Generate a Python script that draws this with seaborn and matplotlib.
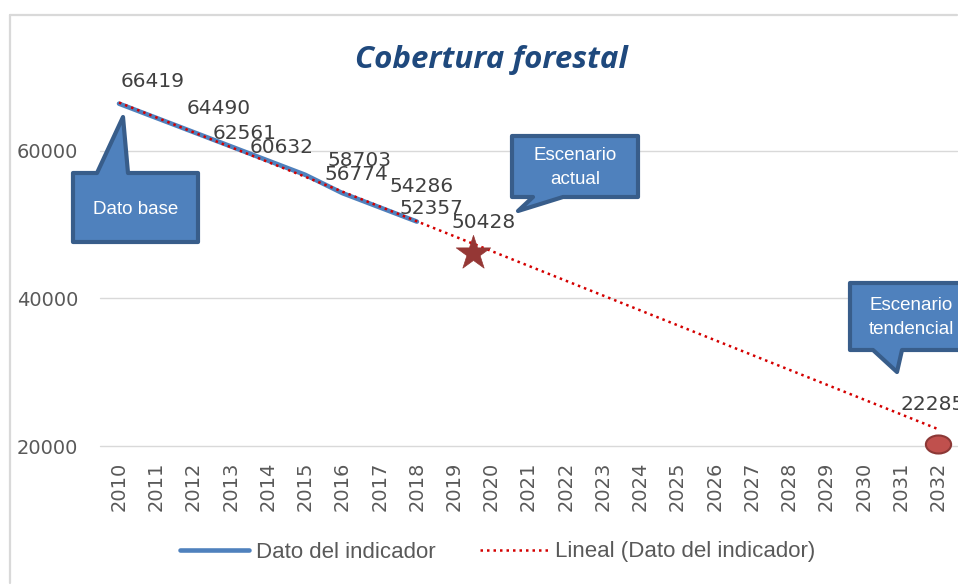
import numpy as np
import matplotlib
matplotlib.use("Agg")
import matplotlib.pyplot as plt
import seaborn as sns
import pandas as pd
from matplotlib.patches import Polygon
from matplotlib.lines import Line2D
from matplotlib.path import Path

# Data
years = [2010, 2011, 2012, 2013, 2014, 2015, 2016, 2017, 2018]
cobertura = [66419, 64490, 62561, 60632, 58703, 56774, 54286, 52357, 50428]
trend_years = [2010, 2032]
trend_values = [66568, 22285]
actual_year = [2019.5]
actual_value = [46170]
tendencial_year = [2032]
tendencial_value = [20270]
all_years = list(range(2010, 2033))
y_ticks = [20000, 40000, 60000]

# label offsets (points) for the data labels, as placed in the original
label_offsets = [(24, 16), (45, 7), (37, -1), (37, -1), (66, 0), (37, 0), (57, 5), (37, -1), (48, -1)]

sns.set_style("white")
plt.rcParams['font.family'] = ['DejaVu Sans']

W, H = 958, 585
fig = plt.figure(figsize=(W / 100, H / 100), dpi=100)
ax = fig.add_axes([100.4 / W, 1 - 446 / H, 856.4 / W, 0.706])

df = pd.DataFrame({'anio': years, 'valor': cobertura})
df_trend = pd.DataFrame({'anio': trend_years, 'valor': trend_values})

sns.lineplot(data=df, x='anio', y='valor', ax=ax, color='#4f81bd', linewidth=3.3,
             label='Dato del indicador')
sns.lineplot(data=df_trend, x='anio', y='valor', ax=ax, color='#d40000', linewidth=1.8,
             linestyle=(0, (1, 1.6)), label='Lineal (Dato del indicador)')

sns.scatterplot(x=actual_year, y=actual_value, ax=ax, marker='*', s=680,
                color='#953735', edgecolor='#953735', linewidth=0.5, zorder=5)
circ = Path.unit_circle()
ell = Path(circ.vertices * np.array([1.4, 1.0]), circ.codes)
sns.scatterplot(x=tendencial_year, y=tendencial_value, ax=ax, marker=ell, s=330,
                color='#c0504d', edgecolor='#8c3836', linewidth=1.5, zorder=5, clip_on=False)

# data labels
for yr, v, (dx, dy) in zip(years, cobertura, label_offsets):
    ax.annotate(f"{v}", (yr, v), xytext=(dx, dy), textcoords='offset points',
                ha='center', va='center', fontsize=14.5, color='#404040', annotation_clip=False)
ax.annotate(f"{trend_values[-1]}", (trend_years[-1], trend_values[-1]), xytext=(-4, 18),
            textcoords='offset points', ha='center', va='center', fontsize=14.5,
            color='#404040', annotation_clip=False)

ax.set_xlim(2009.5, 2032.5)
ax.set_ylim(20000, 76000)
ax.set_xticks(all_years)
ax.set_xticklabels([str(y) for y in all_years], rotation=90, fontsize=14, color='#595959')
ax.set_yticks(y_ticks)
ax.set_yticklabels([str(y) for y in y_ticks], fontsize=14, color='#595959')
ax.tick_params(axis='both', length=0)
ax.tick_params(axis='y', pad=16)
ax.tick_params(axis='x', pad=11)
ax.set_xlabel('')
ax.set_ylabel('')
ax.grid(axis='y', color='#d9d9d9', linewidth=1)
for gl in ax.get_ygridlines():
    gl.set_clip_on(False)
ax.set_axisbelow(True)
for s in ax.spines.values():
    s.set_visible(False)
ax.get_legend().remove()

# title
fig.text(491 / W, 1 - 60 / H, 'Cobertura forestal', ha='center', va='center',
         fontsize=22.5, fontweight='bold', fontstyle='italic', color='#1f497d',
         family=['Open Sans', 'DejaVu Sans'])


# callouts (pixel coords, top-left origin)
def callout(pts, lines, center, gap):
    poly = Polygon([(x / W, 1 - y / H) for x, y in pts], closed=True,
                   transform=fig.transFigure, facecolor='#4f81bd', edgecolor='#385d8a',
                   linewidth=3, joinstyle='round', zorder=10)
    fig.add_artist(poly)
    cx, cy = center
    for i, t in enumerate(lines):
        fig.text(cx / W, 1 - (cy + i * gap) / H, t, ha='center', va='center',
                 color='white', fontsize=13.5, zorder=11,
                 family=['Liberation Sans', 'DejaVu Sans'])


callout([(73, 173), (97, 173), (123, 117), (128, 173), (198, 173), (198, 242), (73, 242)],
        ['Dato base'], (136, 209), 0)
callout([(512, 136), (638, 136), (638, 197), (563, 197), (518, 211), (533, 197), (512, 197)],
        ['Escenario', 'actual'], (575, 156), 24)
callout([(850, 283), (972, 283), (972, 350), (902, 350), (897, 372), (873, 350), (850, 350)],
        ['Escenario', 'tendencial'], (911, 305), 24)

# legend
handles, labels = ax.get_legend_handles_labels()
fig.legend(handles, labels, loc='center', bbox_to_anchor=(498 / W, 1 - 552 / H), ncol=2,
           frameon=False, handlelength=3.1, handletextpad=0.3, columnspacing=2.0,
           prop={'family': ['Liberation Sans', 'DejaVu Sans'], 'size': 16},
           labelcolor='#595959')

# chart border
fig.add_artist(Line2D([10 / W, 10 / W], [1 - 15 / H, 1 - 583 / H], transform=fig.transFigure,
                      color='#d9d9d9', linewidth=1.6))
fig.add_artist(Line2D([10 / W, 957 / W], [1 - 15 / H, 1 - 15 / H], transform=fig.transFigure,
                      color='#d9d9d9', linewidth=1.6))

fig.savefig('out.png', dpi=100)
